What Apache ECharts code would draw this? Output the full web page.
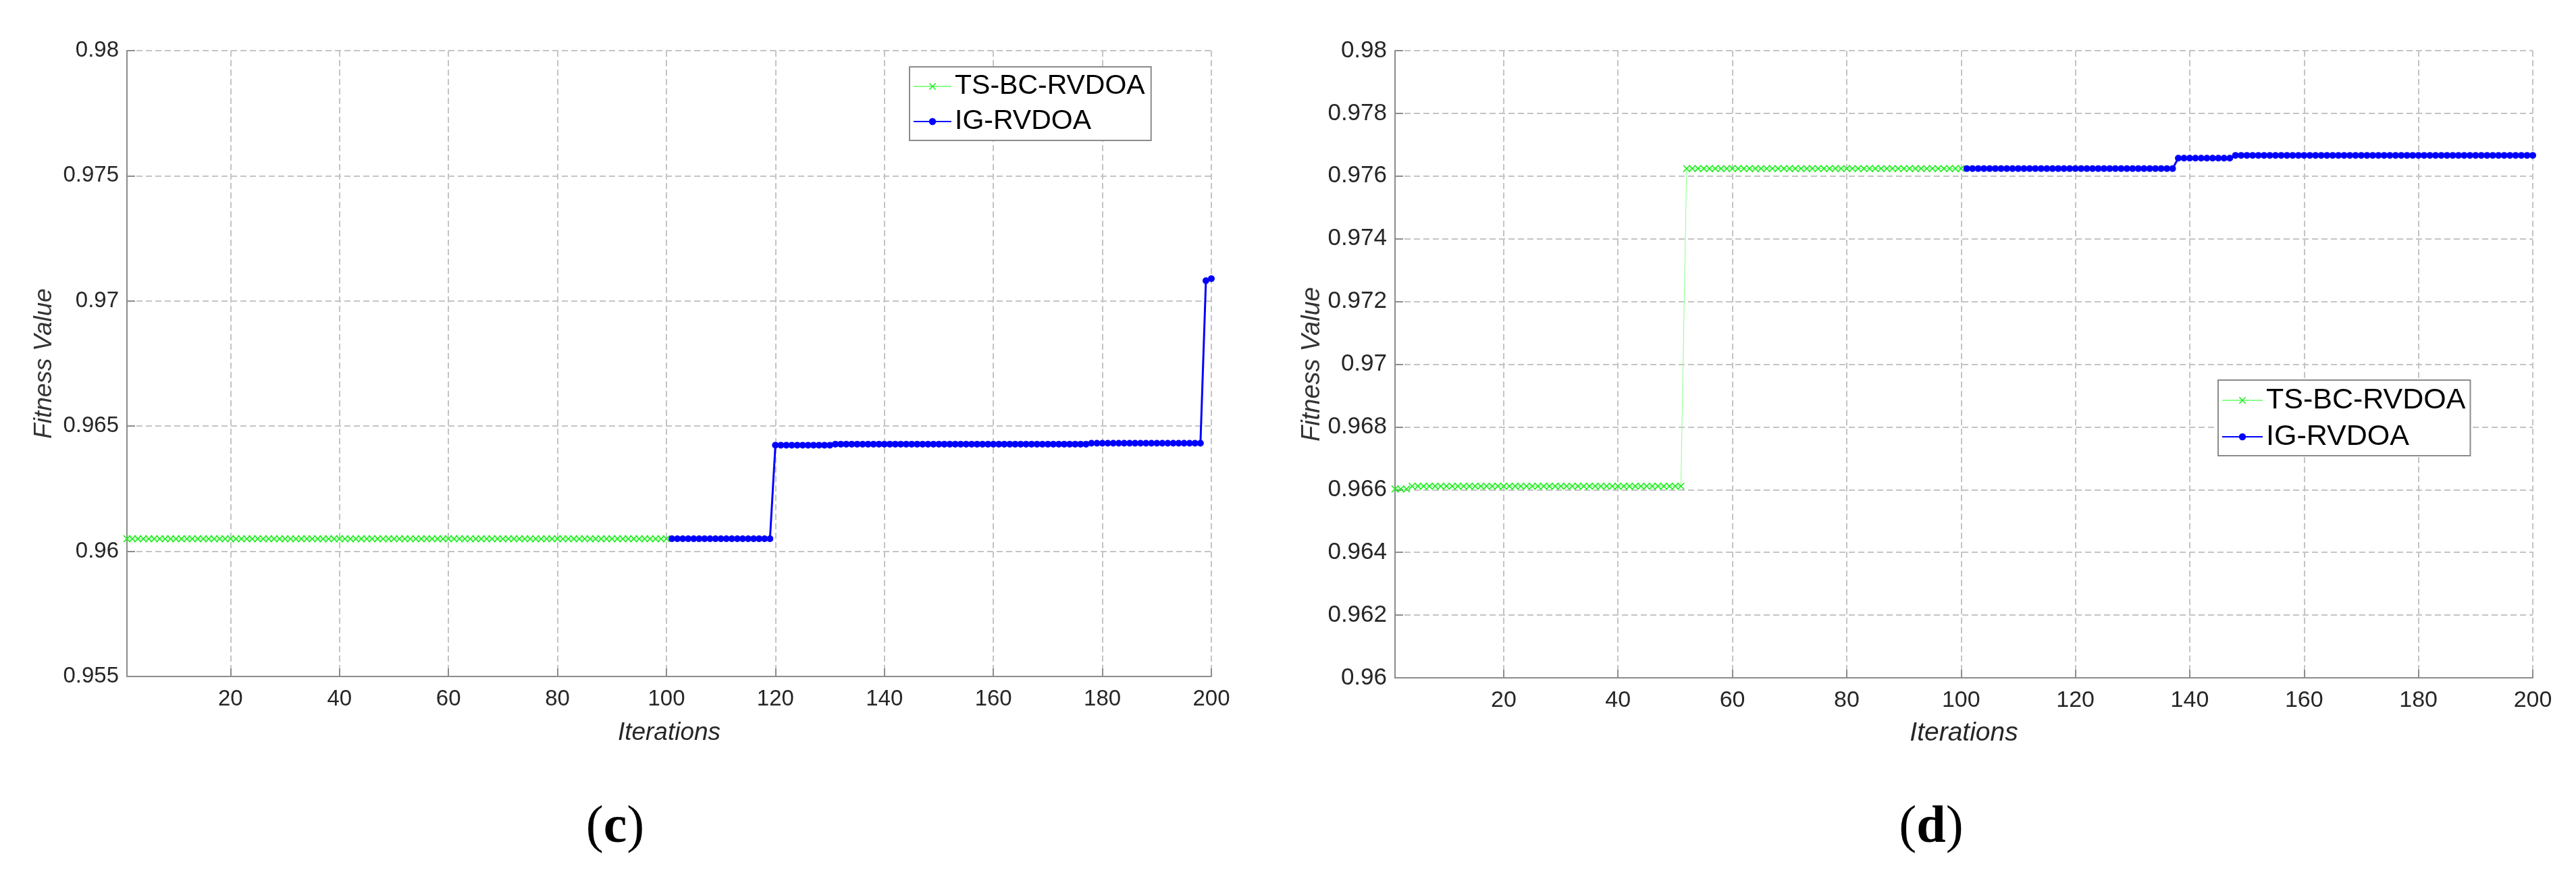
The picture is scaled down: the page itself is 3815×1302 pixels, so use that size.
<!DOCTYPE html>
<html>
<head>
<meta charset="utf-8">
<title>Fitness Value vs Iterations</title>
<script src="https://cdn.jsdelivr.net/npm/echarts@6.0.0/dist/echarts.min.js"></script>
<style>
  html, body { margin: 0; padding: 0; background: #fff; }
  #chart { width: 3815px; height: 1302px; }
</style>
</head>
<body>
<div id="chart"></div>
<script>
  // x categories: iterations 1..200
  const iterations = []
  for (let i = 1; i <= 200; i++) iterations.push(String(i))
  const xTickLabels = [20, 40, 60, 80, 100, 120, 140, 160, 180, 200]
  const yTicksC = [0.955, 0.96, 0.965, 0.97, 0.975, 0.98]
  const yTicksD = [0.96, 0.962, 0.964, 0.966, 0.968, 0.97, 0.972, 0.974, 0.976, 0.978, 0.98]
  const seriesNames = ['TS-BC-RVDOA', 'IG-RVDOA']

  // (c) TS-BC-RVDOA, iterations 1-100
  const tsbcC = [
    0.9605, 0.9605, 0.9605, 0.9605, 0.9605, 0.9605, 0.9605, 0.9605, 0.9605, 0.9605,
    0.9605, 0.9605, 0.9605, 0.9605, 0.9605, 0.9605, 0.9605, 0.9605, 0.9605, 0.9605,
    0.9605, 0.9605, 0.9605, 0.9605, 0.9605, 0.9605, 0.9605, 0.9605, 0.9605, 0.9605,
    0.9605, 0.9605, 0.9605, 0.9605, 0.9605, 0.9605, 0.9605, 0.9605, 0.9605, 0.9605,
    0.9605, 0.9605, 0.9605, 0.9605, 0.9605, 0.9605, 0.9605, 0.9605, 0.9605, 0.9605,
    0.9605, 0.9605, 0.9605, 0.9605, 0.9605, 0.9605, 0.9605, 0.9605, 0.9605, 0.9605,
    0.9605, 0.9605, 0.9605, 0.9605, 0.9605, 0.9605, 0.9605, 0.9605, 0.9605, 0.9605,
    0.9605, 0.9605, 0.9605, 0.9605, 0.9605, 0.9605, 0.9605, 0.9605, 0.9605, 0.9605,
    0.9605, 0.9605, 0.9605, 0.9605, 0.9605, 0.9605, 0.9605, 0.9605, 0.9605, 0.9605,
    0.9605, 0.9605, 0.9605, 0.9605, 0.9605, 0.9605, 0.9605, 0.9605, 0.9605, 0.9605
  ]
  // (c) IG-RVDOA, iterations 101-200
  const igC = [
    0.9605, 0.9605, 0.9605, 0.9605, 0.9605, 0.9605, 0.9605, 0.9605, 0.9605, 0.9605,
    0.9605, 0.9605, 0.9605, 0.9605, 0.9605, 0.9605, 0.9605, 0.9605, 0.9605, 0.96424,
    0.96424, 0.96424, 0.96424, 0.96424, 0.96424, 0.96424, 0.96424, 0.96424, 0.96424, 0.96424,
    0.96428, 0.96428, 0.96428, 0.96428, 0.96428, 0.96428, 0.96428, 0.96428, 0.96428, 0.96428,
    0.96428, 0.96428, 0.96428, 0.96428, 0.96428, 0.96428, 0.96428, 0.96428, 0.96428, 0.96428,
    0.96428, 0.96428, 0.96428, 0.96428, 0.96428, 0.96428, 0.96428, 0.96428, 0.96428, 0.96428,
    0.96428, 0.96428, 0.96428, 0.96428, 0.96428, 0.96428, 0.96428, 0.96428, 0.96428, 0.96428,
    0.96428, 0.96428, 0.96428, 0.96428, 0.96428, 0.96428, 0.96428, 0.96432, 0.96432, 0.96432,
    0.96432, 0.96432, 0.96432, 0.96432, 0.96432, 0.96432, 0.96432, 0.96432, 0.96432, 0.96432,
    0.96432, 0.96432, 0.96432, 0.96432, 0.96432, 0.96432, 0.96432, 0.96432, 0.97081, 0.97089
  ]
  // (d) TS-BC-RVDOA, iterations 1-100
  const tsbcD = [
    0.96602, 0.96602, 0.96602, 0.96611, 0.96611, 0.96611, 0.96611, 0.96611, 0.96611, 0.96611,
    0.96611, 0.96611, 0.96611, 0.96611, 0.96611, 0.96611, 0.96611, 0.96611, 0.96611, 0.96611,
    0.96611, 0.96611, 0.96611, 0.96611, 0.96611, 0.96611, 0.96611, 0.96611, 0.96611, 0.96611,
    0.96611, 0.96611, 0.96611, 0.96611, 0.96611, 0.96611, 0.96611, 0.96611, 0.96611, 0.96611,
    0.96611, 0.96611, 0.96611, 0.96611, 0.96611, 0.96611, 0.96611, 0.96611, 0.96611, 0.96611,
    0.96611, 0.97624, 0.97624, 0.97624, 0.97624, 0.97624, 0.97624, 0.97624, 0.97624, 0.97624,
    0.97624, 0.97624, 0.97624, 0.97624, 0.97624, 0.97624, 0.97624, 0.97624, 0.97624, 0.97624,
    0.97624, 0.97624, 0.97624, 0.97624, 0.97624, 0.97624, 0.97624, 0.97624, 0.97624, 0.97624,
    0.97624, 0.97624, 0.97624, 0.97624, 0.97624, 0.97624, 0.97624, 0.97624, 0.97624, 0.97624,
    0.97624, 0.97624, 0.97624, 0.97624, 0.97624, 0.97624, 0.97624, 0.97624, 0.97624, 0.97624
  ]
  // (d) IG-RVDOA, iterations 101-200
  const igD = [
    0.97624, 0.97624, 0.97624, 0.97624, 0.97624, 0.97624, 0.97624, 0.97624, 0.97624, 0.97624,
    0.97624, 0.97624, 0.97624, 0.97624, 0.97624, 0.97624, 0.97624, 0.97624, 0.97624, 0.97624,
    0.97624, 0.97624, 0.97624, 0.97624, 0.97624, 0.97624, 0.97624, 0.97624, 0.97624, 0.97624,
    0.97624, 0.97624, 0.97624, 0.97624, 0.97624, 0.97624, 0.97624, 0.97657, 0.97657, 0.97657,
    0.97657, 0.97657, 0.97657, 0.97657, 0.97657, 0.97657, 0.97657, 0.97666, 0.97666, 0.97666,
    0.97666, 0.97666, 0.97666, 0.97666, 0.97666, 0.97666, 0.97666, 0.97666, 0.97666, 0.97666,
    0.97666, 0.97666, 0.97666, 0.97666, 0.97666, 0.97666, 0.97666, 0.97666, 0.97666, 0.97666,
    0.97666, 0.97666, 0.97666, 0.97666, 0.97666, 0.97666, 0.97666, 0.97666, 0.97666, 0.97666,
    0.97666, 0.97666, 0.97666, 0.97666, 0.97666, 0.97666, 0.97666, 0.97666, 0.97666, 0.97666,
    0.97666, 0.97666, 0.97666, 0.97666, 0.97666, 0.97666, 0.97666, 0.97666, 0.97666, 0.97666
  ]

  const FONT = 'Liberation Sans'
  const AXIS_COLOR = '#8c8c8c'
  const TEXT_COLOR = '#262626'
  const xMark = 'path://M0,1L1,0L5,4L9,0L10,1L6,5L10,9L9,10L5,6L1,10L0,9L4,5Z'
  const isTick = (idx, val) => xTickLabels.indexOf(+val) >= 0

  function xAxis (gridIndex, fontSize, nameSize, nameGap) {
    return {
      type: 'category',
      gridIndex: gridIndex,
      data: iterations,
      boundaryGap: false,
      name: 'Iterations',
      nameLocation: 'middle',
      nameGap: nameGap,
      nameTextStyle: { fontFamily: FONT, fontStyle: 'italic', fontSize: nameSize, color: TEXT_COLOR },
      axisLine: { lineStyle: { color: AXIS_COLOR, width: 2 } },
      axisTick: { interval: isTick, inside: true, length: 12, lineStyle: { color: AXIS_COLOR, width: 2 } },
      axisLabel: { interval: isTick, margin: 17, fontFamily: FONT, fontSize: fontSize, color: TEXT_COLOR },
      splitLine: { show: true, interval: isTick, lineStyle: { color: '#c4c4c4', width: 2, type: [9, 5] } }
    }
  }

  function yAxis (gridIndex, ticks, fontSize, nameSize, nameGap) {
    return {
      type: 'value',
      gridIndex: gridIndex,
      min: ticks[0],
      max: ticks[ticks.length - 1],
      interval: +(ticks[1] - ticks[0]).toFixed(4),
      name: 'Fitness Value',
      nameLocation: 'middle',
      nameGap: nameGap,
      nameTextStyle: { fontFamily: FONT, fontStyle: 'italic', fontSize: nameSize, color: '#333' },
      axisLine: { show: true, lineStyle: { color: AXIS_COLOR, width: 2 } },
      axisTick: { show: true, inside: true, length: 12, lineStyle: { color: AXIS_COLOR, width: 2 } },
      axisLabel: {
        margin: 12,
        fontFamily: FONT,
        fontSize: fontSize,
        color: TEXT_COLOR,
        formatter: v => String(+v.toFixed(3))
      },
      splitLine: { show: true, lineStyle: { color: '#c4c4c4', width: 2, type: [9, 5] } }
    }
  }

  function greenSeries (axisIndex, values) {
    return {
      name: seriesNames[0],
      type: 'line',
      xAxisIndex: axisIndex,
      yAxisIndex: axisIndex,
      data: values.map((v, i) => [iterations[i], v]),
      symbol: xMark,
      symbolSize: 11,
      showAllSymbol: true,
      lineStyle: { color: '#8cff8c', width: 1 },
      itemStyle: { color: '#1aef1a' },
      silent: true,
      z: 3
    }
  }

  function blueSeries (axisIndex, values) {
    return {
      name: seriesNames[1],
      type: 'line',
      xAxisIndex: axisIndex,
      yAxisIndex: axisIndex,
      data: values.map((v, i) => [iterations[100 + i], v]),
      symbol: 'circle',
      symbolSize: 10,
      showAllSymbol: true,
      lineStyle: { color: '#0000ff', width: 3 },
      itemStyle: { color: '#0000ff' },
      silent: true,
      z: 4
    }
  }

  function legend (left, top, fontSize, lineHeight, iconWidth, padding) {
    return {
      orient: 'vertical',
      left: left,
      top: top,
      data: seriesNames,
      itemWidth: iconWidth,
      itemHeight: 13,
      itemGap: 6,
      padding: padding,
      selectedMode: false,
      backgroundColor: '#fff',
      borderColor: '#8a8a8a',
      borderWidth: 2,
      borderRadius: 0,
      textStyle: { fontFamily: FONT, fontSize: fontSize, lineHeight: lineHeight, color: '#000' }
    }
  }

  const panelLabel = (x, letter) => ({
    type: 'text',
    x: x,
    y: 1227,
    style: {
      text: '{p|(}{b|' + letter + '}{p|)}',
      align: 'center',
      verticalAlign: 'middle',
      rich: {
        p: { fontFamily: 'Liberation Serif', fontSize: 78, fill: '#000' },
        b: { fontFamily: 'Liberation Serif', fontSize: 78, fontWeight: 'bold', fill: '#000' }
      }
    }
  })

  const chart = echarts.init(document.getElementById('chart'))
  const option = {
    animation: false,
    backgroundColor: '#fff',
    grid: [
      { left: 188, top: 75, width: 1606, height: 927, containLabel: false },
      { left: 2066, top: 75, width: 1685, height: 929, containLabel: false }
    ],
    xAxis: [xAxis(0, 33, 37, 65), xAxis(1, 34, 39, 63)],
    yAxis: [yAxis(0, yTicksC, 33, 37, 104), yAxis(1, yTicksD, 35, 38, 98)],
    legend: [
      legend(1347, 99, 41, 46, 56, [6, 9, 5, 5]),
      legend(3285, 563, 43, 48, 60, [6, 7, 4, 5])
    ],
    series: [
      greenSeries(0, tsbcC),
      blueSeries(0, igC),
      greenSeries(1, tsbcD),
      blueSeries(1, igD)
    ],
    graphic: [panelLabel(911, 'c'), panelLabel(2860, 'd')]
  }
  chart.setOption(option, true)
</script>
</body>
</html>
